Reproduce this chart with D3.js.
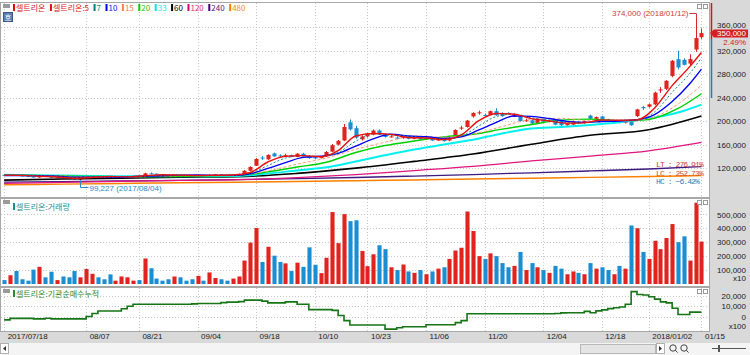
<!DOCTYPE html>
<html><head><meta charset="utf-8">
<script src="https://cdn.jsdelivr.net/npm/d3@7"></script>
<style>
body{margin:0;background:#fff;}
svg{display:block;}
text{font-family:"Liberation Sans",Arial,sans-serif;}
</style></head><body>
<svg id="c" width="750" height="355"></svg>
<script>
// ---------------- DATA ----------------
const dates=["2017/07/18","2017/07/19","2017/07/20","2017/07/21","2017/07/24","2017/07/25","2017/07/26","2017/07/27","2017/07/28","2017/07/31",
"2017/08/01","2017/08/02","2017/08/03","2017/08/04","2017/08/07","2017/08/08","2017/08/09","2017/08/10","2017/08/11","2017/08/14","2017/08/16","2017/08/17","2017/08/18","2017/08/21","2017/08/22","2017/08/23","2017/08/24","2017/08/25","2017/08/28","2017/08/29","2017/08/30","2017/08/31",
"2017/09/01","2017/09/04","2017/09/05","2017/09/06","2017/09/07","2017/09/08","2017/09/11","2017/09/12","2017/09/13","2017/09/14","2017/09/15","2017/09/18","2017/09/19","2017/09/20","2017/09/21","2017/09/22","2017/09/25","2017/09/26","2017/09/27","2017/09/28","2017/09/29",
"2017/10/10","2017/10/11","2017/10/12","2017/10/13","2017/10/16","2017/10/17","2017/10/18","2017/10/19","2017/10/20","2017/10/23","2017/10/24","2017/10/25","2017/10/26","2017/10/27","2017/10/30","2017/10/31",
"2017/11/01","2017/11/02","2017/11/03","2017/11/06","2017/11/07","2017/11/08","2017/11/09","2017/11/10","2017/11/13","2017/11/14","2017/11/15","2017/11/16","2017/11/17","2017/11/20","2017/11/21","2017/11/22","2017/11/23","2017/11/24","2017/11/27","2017/11/28","2017/11/29","2017/11/30",
"2017/12/01","2017/12/04","2017/12/05","2017/12/06","2017/12/07","2017/12/08","2017/12/11","2017/12/12","2017/12/13","2017/12/14","2017/12/15","2017/12/18","2017/12/19","2017/12/20","2017/12/21","2017/12/22","2017/12/26","2017/12/27","2017/12/28",
"2018/01/02","2018/01/03","2018/01/04","2018/01/05","2018/01/08","2018/01/09","2018/01/10","2018/01/11","2018/01/12","2018/01/15"];

const open=[108500,107000,109000,107500,106500,106500,104000,107000,105500,103500,
104500,103000,102500,100500,103500,105500,107500,106000,105500,104000,
104500,105500,106000,106500,105500,111000,110500,109000,108000,107000,
108500,107500,106500,106000,108000,107000,108500,109500,108000,107000,
108000,110000,115500,124000,138000,135000,145000,141500,140000,142000,
139000,144500,140500,138500,137000,140000,148000,160000,167000,198000,
188000,169000,174000,177000,184000,177000,173000,172000,171000,173000,
170000,172000,169000,170000,167000,169000,167000,174000,188000,190000,
208000,214000,210500,211000,217000,214000,214000,208000,207500,200500,
201500,197000,203000,199000,200000,200000,193000,194000,199000,197000,
209500,204000,208000,203000,199000,201000,197000,200000,208500,224000,
224500,228500,253000,255000,277000,305500,304500,298000,322000,343000];
const high=[109500,109500,109800,108500,107500,107000,107500,107500,106000,105000,
105000,104000,103000,104000,106500,108000,108000,106500,106000,105000,
106000,107000,107000,107000,112000,112500,111000,109500,108500,109000,
109000,108000,107000,108500,108500,109000,110000,110000,108500,108500,
110500,116500,123000,137000,140500,143500,146500,143500,144500,143000,
145500,146000,141500,140000,140000,149000,161000,168000,195000,203000,
192000,176000,180000,186000,186000,179000,176000,174000,175000,175000,
174000,173000,172000,171000,171000,170000,173000,186000,192000,202000,
215000,218000,213000,218000,222000,215000,215000,213000,209000,204000,
203000,205000,204000,202000,201000,201000,197000,201000,200000,201000,
211000,208000,209000,204000,202000,202000,201000,201000,221000,226000,
230000,250000,258000,270000,304000,320000,307000,314000,374000,358000];
const low=[106500,106500,107000,106000,105500,103500,103500,105000,103000,103000,
102500,101500,100500,99227,103000,105000,105500,104500,103500,103500,
104000,105000,105500,105000,105000,109500,108500,107500,106500,106500,
107000,106000,105500,105500,106500,106500,108000,107500,106500,106500,
107500,109500,114500,123500,134000,133500,139000,139500,139000,138500,
138500,139500,136000,135500,136500,139500,147000,158500,166000,184000,
170000,167000,172000,176000,176000,172000,172000,169000,170000,169000,
169000,168000,168000,166000,166000,165000,166000,173000,185000,189000,
206000,211000,208000,210000,209000,207500,211000,207000,199000,199000,
195000,196000,198000,198000,193000,192000,192000,193000,195000,196000,
203000,203000,202000,198000,198000,196000,196000,192000,207000,219000,
223000,227000,248000,253000,275000,288000,295000,294000,318000,340000];
const close=[107000,109000,107500,106500,106000,104000,107000,105500,103500,104500,
103000,102000,101000,103500,106000,107500,106000,105000,104000,104500,
105500,106500,106500,105500,111000,110000,109000,108000,107000,108500,
107500,106500,106000,108000,107000,108500,109500,108000,107000,108000,
110000,115500,122000,135500,136500,142500,140000,140500,142000,139000,
144500,140000,137000,136500,139500,147500,159000,166500,190000,186000,
172000,174000,179000,184000,177000,173000,174000,170000,174000,170000,
173000,169000,171000,167000,170000,166000,172000,185000,189000,201000,
214000,215000,209500,217000,210000,208500,212000,212000,200000,201500,
196000,204000,199000,201000,194000,193000,196000,200000,196000,200000,
204000,207000,203000,199000,201000,197000,200000,193000,220000,222000,
228600,248600,254000,268700,302800,291500,296000,305700,341500,350000];
const prevClose=341500;
// volume (display units, axis shows x10)
const volume=[28000,63000,93000,34000,24000,103000,123000,48000,88000,28000,
54000,48000,93000,48000,108000,73000,48000,34000,69000,24000,
54000,48000,24000,28000,183000,113000,39000,24000,34000,54000,
48000,24000,34000,58000,24000,83000,43000,34000,24000,39000,
54000,168000,297000,402000,158000,267000,203000,158000,148000,93000,
153000,123000,263000,138000,78000,188000,516000,293000,501000,451000,
457000,237000,128000,213000,278000,250000,120000,100000,140000,90000,
80000,100000,70000,90000,110000,120000,180000,240000,260000,520000,
380000,200000,180000,220000,200000,150000,120000,130000,230000,100000,
150000,120000,100000,80000,130000,110000,70000,90000,80000,70000,
150000,110000,120000,100000,70000,130000,110000,420000,400000,230000,
180000,310000,250000,330000,430000,300000,342000,168000,583000,304000];
// institutional net buying, cumulative (x100)
const instCum=[-3300,-1800,-1800,-1800,-1800,-2300,-2300,-1700,-2300,-2300,
-2300,-2300,-2300,-2300,0,3000,5300,5300,5300,5300,
7500,10000,12000,12000,12000,12000,12000,12000,12000,12000,
12000,12000,12300,12700,12700,12700,12700,13500,14000,14000,
14500,16000,16000,16000,15000,13300,13300,13300,14300,14300,
12000,12000,6700,6700,6700,6700,6000,1000,-4000,-8300,
-8300,-8300,-8300,-8300,-8300,-12300,-12300,-11000,-10000,-10000,
-10000,-10000,-8000,-8000,-8000,-8000,-8000,-6000,-4000,2700,
2700,2700,2700,2700,2700,2700,2700,2700,2700,2700,
2700,2700,2700,2700,3000,3500,3700,3700,3700,5000,
3700,5500,6500,7700,8500,9300,12000,24300,21500,21000,
19300,17000,14300,13300,8000,2000,2000,4300,4300,4300];

// moving averages at sample bars
const maIdx3=[0,3,6,9,12,15,18,21,24,27,30,33,36,39,42,45,48,51,54,57,60,63,66,69,72,75,78,81,84,87,90,93,96,99,102,105,108,111,114,117,119];
const maIdx5=[0,5,10,15,20,25,30,35,40,45,50,55,60,65,70,75,80,85,90,95,100,105,110,115,119];
const maIdx10=[0,10,20,30,40,50,60,70,80,90,100,110,119];
const ma5=[108000,107600,106200,104900,102800,104000,105700,105100,107000,108700,108000,107300,107800,108200,112500,130400,140300,141200,139500,149800,174700,179000,177400,172200,171400,168600,176400,200800,213100,211900,204300,200300,196600,197000,202000,201400,202200,222400,260500,292900,317000];
const ma7=[108000,107500,106700,105300,103800,103900,104700,105600,106200,108100,108700,107400,107600,108000,111400,124300,137000,141200,139800,146600,165800,178800,176100,174600,171600,169400,174300,191700,207900,212000,205700,201900,197600,197100,200900,201600,201900,215600,249200,281000,308000];
const ma10=[107500,107400,107000,106050,104300,104350,104250,104950,106200,107050,107950,108150,107650,107600,110350,119450,129250,138250,140150,145150,157400,169750,177550,174700,173500,170400,173200,185000,197850,208800,208150,204400,199650,197900,199400,200300,202400,211200,233500,263800,288700];
const ma15=[108000,107500,106500,105100,104600,105600,107000,107700,107900,115400,126700,137200,152000,164100,174800,172700,177700,190900,202800,204800,200600,199600,204400,229100,261300];
const ma20=[108000,107600,106800,105800,105100,105400,106200,107000,107900,113500,121800,130000,146600,158400,166100,173200,177600,186300,194300,201700,203400,200800,202900,221600,246700];
const ma33=[108500,107800,107300,106700,106200,106200,106200,106100,106500,110700,116100,121300,131300,142000,151700,160200,168200,179100,187300,190000,193600,198200,204300,214600,228100];
const ma60=[99500,101500,103000,104500,105500,111000,119900,131400,144000,160700,175900,185400,208700];
const ma120=[94000,95800,97600,99000,100200,103800,109000,115800,122900,132200,140500,149400,163700];
const ma240=[96000,97000,98000,99200,100500,102000,104000,106500,109000,112000,115200,118500,122500];
const ma480=[91500,92700,93800,95000,96100,97300,98600,99900,101300,102700,104200,105700,107300];

const tickDates=["2017/07/18","2017/08/07","2017/08/21","2017/09/04","2017/09/18","2017/10/10","2017/10/23","2017/11/06","2017/11/20","2017/12/04","2017/12/18","2018/01/02","2018/01/15"];
const tickLabels=["2017/07/18","08/07","08/21","09/04","09/18","10/10","10/23","11/06","11/20","12/04","12/18","2018/01/02","01/15"];
const priceTicks=[120000,160000,200000,240000,280000,320000,360000];
const volTicks=[100000,200000,300000,400000,500000];
const instTicks=[0,10000,20000];
const legendItems=[
 {t:"셀트리온",c:"#e01010",tc:"#d01818"},
 {t:"셀트리온:5",c:"#e01010",tc:"#e02020"},
 {t:"7",c:"#008080",tc:"#108a8a"},
 {t:"10",c:"#0000ff",tc:"#1010e0"},
 {t:"15",c:"#ff8040",tc:"#ff7a40"},
 {t:"20",c:"#00d000",tc:"#20c820"},
 {t:"33",c:"#00e8e8",tc:"#30d8e0"},
 {t:"60",c:"#000000",tc:"#000000"},
 {t:"120",c:"#e0006e",tc:"#e02a80"},
 {t:"240",c:"#400080",tc:"#4a2088"},
 {t:"480",c:"#ff8000",tc:"#ff8a10"}];
const maSeries=[
 {v:ma480,idx:maIdx10,c:"#ff8000",w:1.5},
 {v:ma240,idx:maIdx10,c:"#3c1a80",w:1.3},
 {v:ma120,idx:maIdx10,c:"#e0157f",w:1.3},
 {v:ma60,idx:maIdx10,c:"#000000",w:1.6},
 {v:ma33,idx:maIdx5,c:"#00f0f0",w:2},
 {v:ma20,idx:maIdx5,c:"#00d000",w:1.4},
 {v:ma15,idx:maIdx5,c:"#ff9a70",w:1,d:"3,2"},
 {v:ma10,idx:maIdx3,c:"#0000ff",w:1.4},
 {v:ma7,idx:maIdx3,c:"#108a8a",w:1,d:"2,2"},
 {v:ma5,idx:maIdx3,c:"#e81010",w:1.4}];

// ---------------- LAYOUT ----------------
const UP="#e0231e", DN="#1a8ed2";
const svg=d3.select("#c");
const P1={t:3,b:197}, P2={t:199,b:286}, P3={t:288,b:331};
const PR=709;
svg.append("rect").attr("width",750).attr("height",355).attr("fill","#fff");
svg.append("rect").attr("x",PR+1).attr("y",0).attr("width",750-PR-1).attr("height",331).attr("fill","#d9d9d9");
svg.append("rect").attr("x",0).attr("y",331).attr("width",750).attr("height",12).attr("fill","#d9d9d9");
svg.append("rect").attr("x",0).attr("y",343).attr("width",750).attr("height",12).attr("fill","#f4f4f4");

const x=d3.scaleBand().domain(d3.range(close.length)).range([2.08,703.5]).paddingInner(0.3);
const cx=i=>x(i)+x.bandwidth()/2;
const yP=d3.scaleLinear().domain([120000,320000]).range([168.1,50.7]);
const yV=d3.scaleLinear().domain([0,500000]).range([284,214.3]);
const yI=d3.scaleLinear().domain([0,20000]).range([316.5,296]);
const tickIdx=tickDates.map(d=>dates.indexOf(d));

const defs=svg.append("defs");
[["c1",P1],["c2",P2],["c3",P3]].forEach(([id,p])=>{
  defs.append("clipPath").attr("id",id).append("rect").attr("x",1).attr("y",p.t).attr("width",PR-1).attr("height",p.b-p.t);
});

// grids
const grid=svg.append("g").attr("stroke","#c8c8c8").attr("stroke-dasharray","1,2").attr("stroke-width",1);
[P1,P2,P3].forEach(p=>{
  tickIdx.forEach(i=>{ grid.append("line").attr("x1",Math.round(cx(i))+0.5).attr("x2",Math.round(cx(i))+0.5).attr("y1",p.t).attr("y2",p.b); });
});
priceTicks.forEach(v=>grid.append("line").attr("x1",1).attr("x2",PR).attr("y1",Math.round(yP(v))+0.5).attr("y2",Math.round(yP(v))+0.5));
volTicks.forEach(v=>grid.append("line").attr("x1",1).attr("x2",PR).attr("y1",Math.round(yV(v))+0.5).attr("y2",Math.round(yV(v))+0.5));
instTicks.forEach(v=>grid.append("line").attr("x1",1).attr("x2",PR).attr("y1",Math.round(yI(v))+0.5).attr("y2",Math.round(yI(v))+0.5));

// panel frames
const frame=svg.append("g").attr("fill","none").attr("stroke","#a8a8a8");
[P1,P2,P3].forEach(p=>frame.append("rect").attr("x",0.5).attr("y",p.t-0.5).attr("width",PR).attr("height",p.b-p.t+1));

// ---- candles
const gc=svg.append("g").attr("clip-path","url(#c1)");
const bw=x.bandwidth();
close.forEach((c,i)=>{
  const col=c>=open[i]?UP:DN;
  gc.append("line").attr("x1",Math.round(cx(i))+0.5).attr("x2",Math.round(cx(i))+0.5)
    .attr("y1",yP(high[i])).attr("y2",yP(low[i])).attr("stroke",col).attr("stroke-width",1);
  const y0=yP(Math.max(open[i],c)), y1=yP(Math.min(open[i],c));
  gc.append("rect").attr("x",Math.round(cx(i))+0.5-bw/2).attr("width",bw)
    .attr("y",y0).attr("height",Math.max(1,y1-y0)).attr("fill",col);
});
// ---- MAs
const gm=svg.append("g").attr("clip-path","url(#c1)").attr("fill","none");
maSeries.forEach(s=>{
  const line=d3.line().x((d,k)=>cx(s.idx[k])).y(d=>yP(d)).curve(d3.curveMonotoneX);
  gm.append("path").attr("d",line(s.v)).attr("stroke",s.c).attr("stroke-width",s.w)
    .attr("stroke-dasharray",s.d||null);
});

// ---- volume
const gv=svg.append("g").attr("clip-path","url(#c2)");
volume.forEach((v,i)=>{
  const col=close[i]>=open[i]?UP:DN;
  gv.append("rect").attr("x",Math.round(cx(i))+0.5-bw/2).attr("width",bw)
    .attr("y",yV(v)).attr("height",yV(0)-yV(v)).attr("fill",col);
});
// ---- institutional cumulative
svg.append("g").attr("clip-path","url(#c3)").append("path")
  .attr("d",d3.line().x((d,i)=>cx(i)).y(d=>yI(d)).curve(d3.curveStepAfter)(instCum))
  .attr("fill","none").attr("stroke","#167516").attr("stroke-width",1.6);

// ---- right axes
function rightAxis(scale,ticks,fmt){
  const g=svg.append("g").attr("transform","translate(746,0)")
    .call(d3.axisRight(scale).tickValues(ticks).tickFormat(fmt).tickSize(0).tickPadding(0));
  g.select(".domain").remove();
  g.selectAll("text").attr("text-anchor","end").attr("x",0).attr("dy","0.34em")
    .style("font-family","Liberation Sans, Arial").style("font-size","8px").attr("fill","#202020");
  return g;
}
const gPA=rightAxis(yP,priceTicks,d3.format(","));
// the top label sits just above the current-price box
gPA.selectAll(".tick").filter(d=>d===360000).select("text").attr("dy","0.05em");
rightAxis(yV,volTicks,d3.format(","));
rightAxis(yI,instTicks,d3.format(","));
svg.append("text").attr("x",746).attr("y",yV(0)-3).attr("text-anchor","end").attr("font-size","8px").attr("fill","#202020").text("x10");
svg.append("text").attr("x",746).attr("y",yI(0)+12).attr("text-anchor","end").attr("font-size","8px").attr("fill","#202020").text("x100");

// right edge range bar
svg.append("line").attr("x1",711.5).attr("x2",711.5).attr("y1",3).attr("y2",39).attr("stroke","#d01818").attr("stroke-width",1.5);
svg.append("line").attr("x1",711.5).attr("x2",711.5).attr("y1",39).attr("y2",98).attr("stroke","#1a7fc0").attr("stroke-width",1.5);
// current price box
const last=close[close.length-1];
const yl=yP(last);
svg.append("path").attr("d",`M710,${yl} L714,${yl-3.5} L748,${yl-3.5} L748,${yl+4.5} L714,${yl+4.5} Z`).attr("fill","#d42020");
svg.append("text").attr("x",746).attr("y",yl+0.5).attr("dy","0.34em").attr("text-anchor","end").attr("font-size","8px").attr("fill","#fff").text(d3.format(",")(last));
svg.append("text").attr("x",746).attr("y",yl+9.5).attr("dy","0.34em").attr("text-anchor","end").attr("font-size","8px").attr("fill","#d42020")
  .text(d3.format(".2f")((last/prevClose-1)*100)+"%");

// ---- x axis
const gx=svg.append("g").attr("transform","translate(0,331)")
  .call(d3.axisBottom(x).tickValues(tickIdx).tickFormat((d,k)=>tickLabels[k]).tickSize(0).tickPadding(0));
gx.select(".domain").remove();
gx.selectAll("text").attr("text-anchor","start").attr("dx","3.5px").attr("y",2.5)
  .style("font-size","8px").style("font-family","Liberation Sans, Arial").attr("fill","#202020");

// ---- high / low annotations
const hiI=d3.maxIndex(high), loI=d3.minIndex(low);
const hx=Math.round(cx(hiI))+0.5, hy=yP(high[hiI]);
svg.append("path").attr("d",`M${hx-7},13.5 L${hx},13.5 L${hx},${hy}`).attr("fill","none").attr("stroke","#d03a3a");
svg.append("text").attr("x",hx-8).attr("y",16).attr("text-anchor","end").attr("font-size","8px").attr("fill","#d03a3a")
  .text(d3.format(",")(high[hiI])+" ("+dates[hiI]+")");
const lx=Math.round(cx(loI))+0.5, ly=yP(low[loI]);
svg.append("path").attr("d",`M${lx},${ly} L${lx},187.5 L${lx+8},187.5`).attr("fill","none").attr("stroke","#2a8ac8");
svg.append("text").attr("x",lx+9).attr("y",190.5).attr("font-size","8px").attr("fill","#2a8ac8")
  .text(d3.format(",")(Math.round(low[loI]))+" ("+dates[loI]+")");
// stats
const pct=v=>d3.format(".2f")(v)+"%";
const stats=[["LT : "+pct((high[hiI]/low[loI]-1)*100),"#c84040",167],["LC : "+pct((last/low[loI]-1)*100),"#d05030",176],["HC : "+pct((last/high[hiI]-1)*100),"#2a80c0",184]];
stats.forEach(s=>svg.append("text").attr("x",656).attr("y",s[2]).attr("font-size","8px").attr("fill",s[1]).style("font-family","Liberation Mono, monospace").style("letter-spacing","-0.9px").text(s[0]));

// ---- legends
function legend(items,y){
  let xx=13;
  items.forEach(it=>{
    svg.append("rect").attr("x",xx).attr("y",y-7).attr("width",2).attr("height",7).attr("fill",it.c);
    const t=svg.append("text").attr("x",xx+3).attr("y",y).attr("font-size","8px").attr("fill",it.tc)
      .style("font-family","Noto Sans CJK KR, sans-serif").text(it.t);
    xx+=3+t.node().getComputedTextLength()+4.5;
  });
}
legend(legendItems,11);
legend([{t:"셀트리온:거래량",c:"#1a9090",tc:"#1a9090"}],210);
legend([{t:"셀트리온:기관순매수누적",c:"#2a8a2a",tc:"#2a8a2a"}],297);
// panel icons
[P1,P2,P3].forEach(p=>{
  svg.append("rect").attr("x",3).attr("y",p.t+1).attr("width",7).attr("height",4).attr("fill","#9a9a9a");
  svg.append("rect").attr("x",697.5).attr("y",p.t+1.5).attr("width",4).attr("height",4).attr("fill","#fff").attr("stroke","#9a9a9a");
  svg.append("rect").attr("x",703.5).attr("y",p.t+1.5).attr("width",4).attr("height",4).attr("fill","#fff").attr("stroke","#9a9a9a");
});
svg.append("rect").attr("x",3.5).attr("y",12.5).attr("width",9).attr("height",9).attr("fill","#5b7fb5").attr("stroke","#3a5a90");
svg.append("text").attr("x",8).attr("y",20).attr("text-anchor","middle").attr("font-size","7px").attr("fill","#fff").style("font-family","Noto Sans CJK KR").text("호");
// scrollbar
svg.append("rect").attr("x",0.5).attr("y",343.5).attr("width",8).attr("height",10).attr("fill","#fff").attr("stroke","#b0b0b0");
svg.append("path").attr("d","M6,346 L3,348.5 L6,351 Z").attr("fill","#333");
svg.append("rect").attr("x",580.5).attr("y",344.5).attr("width",75).attr("height",9).attr("fill","#e4e4e4").attr("stroke","#b8b8b8");
svg.append("rect").attr("x",656.5).attr("y",343.5).attr("width",8).attr("height",10).attr("fill","#fff").attr("stroke","#b0b0b0");
svg.append("path").attr("d","M659,346 L662,348.5 L659,351 Z").attr("fill","#333");
[[673,"−"],[684,"+"]].forEach(([xx,s])=>{
  svg.append("circle").attr("cx",xx).attr("cy",348).attr("r",3.2).attr("fill","none").attr("stroke","#444");
  svg.append("line").attr("x1",xx+2.3).attr("y1",350.3).attr("x2",xx+4.5).attr("y2",352.5).attr("stroke","#444");
});
svg.append("line").attr("x1",712).attr("x2",746).attr("y1",348.5).attr("y2",348.5).attr("stroke","#555");
svg.append("rect").attr("x",718).attr("y",345).attr("width",2).attr("height",7).attr("fill","#555");
</script>
</body></html>
